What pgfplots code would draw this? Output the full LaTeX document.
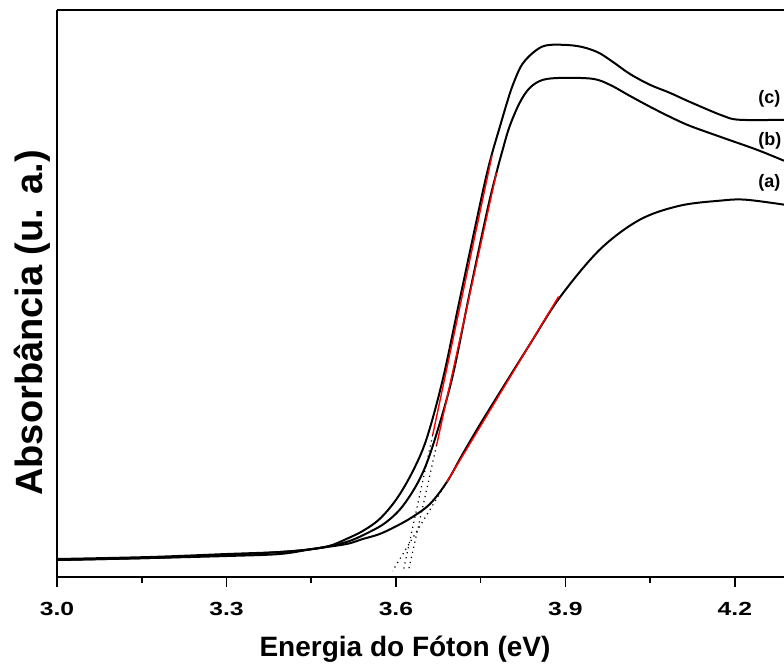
\documentclass[border=0pt]{standalone}
\usepackage{fontspec}
\setmainfont{Liberation Sans}
\newfontfamily\tickfont[FakeStretch=1.3]{Liberation Sans}
\usepackage{pgfplots}
\pgfplotsset{compat=1.18}

% curves (x in eV, y in arbitrary units)
\pgfplotstableread{
x y
3.000 17
3.163 19
3.300 22
3.394 24
3.452 27
3.482 30
3.512 37
3.541 45
3.571 57
3.601 77
3.629 104
3.654 137
3.683 197
3.713 277
3.748 370
3.761 403
3.771 425
3.784 450
3.796 473
3.807 492
3.824 513
3.849 527
3.872 532
3.920 531
3.956 525
3.984 515
4.014 503
4.050 492
4.085 484
4.120 475
4.179 461
4.209 457
4.287 457
}\curvec
\pgfplotstableread{
x y
3.000 16
3.163 18
3.300 21
3.394 24
3.452 27
3.512 34
3.553 44
3.583 54
3.612 70
3.642 97
3.665 130
3.699 197
3.730 282
3.762 367
3.778 404
3.789 427
3.801 450
3.819 474
3.837 489
3.860 497
3.895 499
3.949 498
3.979 492
4.014 481
4.050 470
4.085 460
4.120 451
4.179 439
4.239 427
4.287 416
}\curveb
\pgfplotstableread{
x y
3.000 16
3.163 18
3.300 20
3.394 22
3.452 27
3.512 32
3.541 37
3.571 42
3.601 50
3.629 59
3.660 72
3.690 94
3.718 122
3.748 151
3.784 184
3.837 232
3.890 279
3.961 327
4.032 357
4.103 371
4.174 376
4.218 377
4.287 372
}\curvea

\begin{document}
\begin{tikzpicture}
\useasboundingbox (0,0) rectangle (392pt,333.5pt);
\begin{axis}[
    at={(28.5pt,45pt)}, anchor=south west,
    scale only axis,
    width=363.5pt, height=283.5pt,
    xmin=3, xmax=4.287,
    ymin=-1, ymax=567,
    axis x line=box, axis y line=left,
    axis line style={-, line width=1pt},
    xtick={3.0,3.3,3.6,3.9,4.2},
    xticklabels={3.0,3.3,3.6,3.9,4.2},
    minor xtick={3.15,3.45,3.75,4.05},
    xtick pos=left,
    ytick=\empty,
    tick align=outside,
    major tick length=5pt, minor tick length=3pt,
    every tick/.style={black, line width=0.8pt},
    xticklabel style={font=\tickfont\bfseries\fontsize{9.5}{11}\selectfont, yshift=-4pt},
    /pgf/number format/assume math mode=true,
]
\addplot[black, line width=1pt, smooth, tension=0.55] table {\curvea};
\addplot[black, line width=1pt, smooth, tension=0.55] table {\curveb};
\addplot[black, line width=1pt, smooth, tension=0.55] table {\curvec};
% linear fits (red) and their extrapolations to the baseline (dotted)
\addplot[red, line width=0.7pt] coordinates {(3.665,141) (3.770,421)};
\addplot[red, line width=0.7pt] coordinates {(3.672,131) (3.778,404)};
\addplot[red, line width=0.7pt] coordinates {(3.690,94) (3.888,280)};
\addplot[black, dotted, line width=0.6pt] coordinates {(3.665,141) (3.613,5)};
\addplot[black, dotted, line width=0.6pt] coordinates {(3.672,131) (3.622,5)};
\addplot[black, dotted, line width=0.6pt] coordinates {(3.690,94) (3.594,5)};
\end{axis}
\node[anchor=base, font=\bfseries\fontsize{14}{16}\selectfont] at (202.5pt,5pt) {Energia do Fóton (eV)};
\node[anchor=base, rotate=90, font=\bfseries\fontsize{19}{22}\selectfont] at (21pt,172pt) {Absorbância (u. a.)};
\node[anchor=west, inner sep=0pt, font=\bfseries\fontsize{9}{10}\selectfont] at (379pt,284pt) {(c)};
\node[anchor=west, inner sep=0pt, font=\bfseries\fontsize{9}{10}\selectfont] at (379pt,263pt) {(b)};
\node[anchor=west, inner sep=0pt, font=\bfseries\fontsize{9}{10}\selectfont] at (379pt,242pt) {(a)};
\end{tikzpicture}
\end{document}
